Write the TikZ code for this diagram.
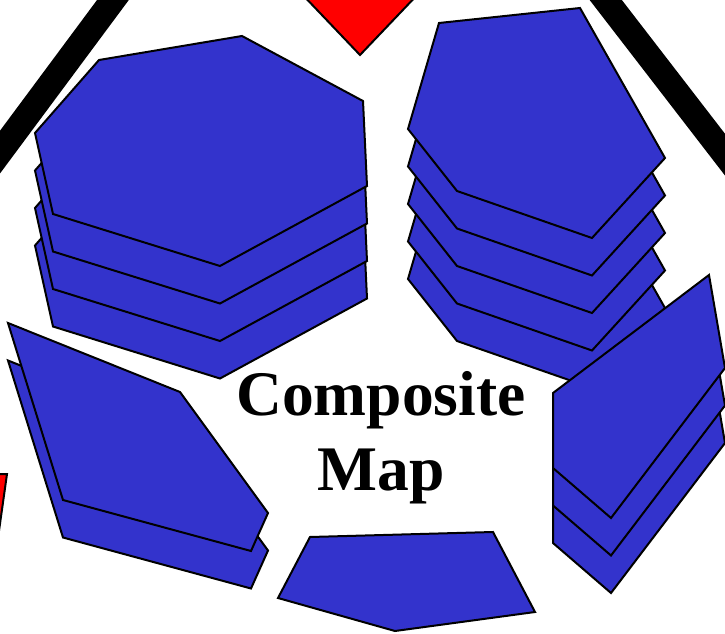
\documentclass[tikz,border=0pt]{standalone}
\usepackage{fontspec}
\setmainfont{Liberation Serif}
\usepackage{tikz}
\definecolor{facet}{HTML}{3333CC}
\definecolor{seam} {HTML}{FF0000}
\tikzset{
  patch/.style={fill=facet, draw=black, line width=2pt, line join=miter},
  redpatch/.style={fill=seam, draw=black, line width=2pt},
  rim/.style={draw=black, line width=25.5pt},
  title/.style={anchor=base, font=\bfseries\fontsize{63.5}{70}\selectfont}
}
\begin{document}
\begin{tikzpicture}[x=1pt, y=-1pt]
    \useasboundingbox (0,0) rectangle (725,634);
    \clip (0,0) rectangle (725,634);

    % --- the frame round the map ---------------------------------------------
    \draw[rim] (130,-23) -- (-17,175);
    \draw[rim] (588,-23) -- (743,178);
    \draw[redpatch] (300,-8) -- (420,-8) -- (360,55) -- cycle;
    \draw[redpatch] (-30,474) -- (7,474) -- (-3,545) -- (-30,545) -- cycle;

    % --- stack at the top right, five sheets ----------------------------------
    \foreach \k in {4,...,0}
      \draw[patch, shift={(0,37.5*\k)}]
        (439,23) -- (580,8) -- (665,158) -- (592,238) -- (457,191) -- (408,129) -- cycle;

    % --- stack at the right, three sheets -------------------------------------
    \foreach \k in {2,...,0}
      \draw[patch, shift={(0,37.5*\k)}]
        (553,393) -- (709,275) -- (725,368) -- (611,518) -- (553,468) -- cycle;

    % --- stack at the top left, four sheets -----------------------------------
    \foreach \k in {3,...,0}
      \draw[patch, shift={(0,37.5*\k)}]
        (35,133) -- (99,60) -- (242,36) -- (363,101) -- (367,186) -- (220,266) -- (53,214) -- cycle;

    % --- stack at the left, two sheets ----------------------------------------
    \foreach \k in {1,0}
      \draw[patch, shift={(0,37.5*\k)}]
        (8,323) -- (180,392) -- (268,513) -- (251,551) -- (63,500) -- cycle;

    % --- single sheet at the bottom -------------------------------------------
    \draw[patch] (310,537) -- (493,532) -- (535,612) -- (395,631) -- (278,598) -- cycle;

    \node[title] (composite) at (381,415) {Composite};
    \node[title] (map)       at (381,490) {Map};
\end{tikzpicture}
\end{document}
